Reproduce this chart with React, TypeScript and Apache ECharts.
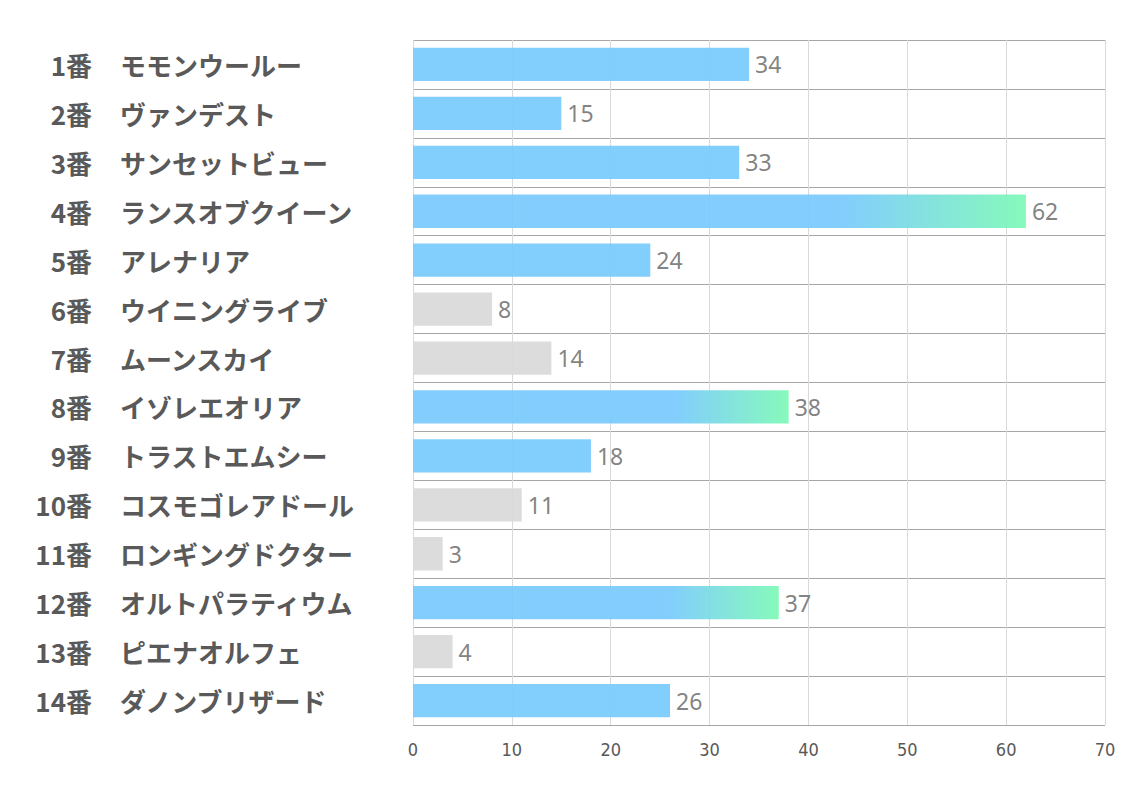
import React, { useEffect, useRef } from "react";
import * as echarts from "echarts";

const numbers = ["1番", "2番", "3番", "4番", "5番", "6番", "7番", "8番", "9番", "10番", "11番", "12番", "13番", "14番"];
const names = ["モモンウールー", "ヴァンデスト", "サンセットビュー", "ランスオブクイーン", "アレナリア", "ウイニングライブ", "ムーンスカイ", "イゾレエオリア", "トラストエムシー", "コスモゴレアドール", "ロンギングドクター", "オルトパラティウム", "ピエナオルフェ", "ダノンブリザード"];
const values = [34, 15, 33, 62, 24, 8, 14, 38, 18, 11, 3, 37, 4, 26];
const kinds = ["blue", "blue", "blue", "grad", "blue", "gray", "gray", "grad", "blue", "gray", "gray", "grad", "gray", "blue"];
const xTicks = [0, 10, 20, 30, 40, 50, 60, 70];

const BLUE = "#79cafd";
const GREEN = "#7df9b6";
const GRAY = "#d9d9d9";
const LABEL_FONT = "'Noto Sans CJK JP', 'Noto Sans', sans-serif";

export default function App() {
  const ref = useRef<HTMLDivElement>(null);
  useEffect(() => {
    if (!ref.current) return;
    const chart = echarts.init(ref.current, null, { renderer: "svg" });
    const colorFor = (k: string) => {
      if (k === "gray") return GRAY;
      if (k === "blue") return BLUE;
      return new echarts.graphic.LinearGradient(0, 0, 1, 0, [
        { offset: 0, color: BLUE },
        { offset: 0.7, color: BLUE },
        { offset: 1, color: GREEN },
      ]);
    };
    const baseY = {
      type: "category",
      inverse: true,
      position: "left",
      axisLine: { show: false },
      axisTick: { show: false },
    };
    chart.setOption({
      animation: false,
      backgroundColor: "#ffffff",
      grid: { left: 413, right: 29, top: 40, bottom: 68, containLabel: false },
      xAxis: {
        type: "value",
        min: xTicks[0],
        max: xTicks[xTicks.length - 1],
        interval: 10,
        axisLine: { show: false },
        axisTick: { show: false },
        axisLabel: {
          color: "#595959",
          fontSize: 18,
          margin: 15,
          fontFamily: "'Liberation Sans Narrow', 'DejaVu Sans Condensed', 'Noto Sans', sans-serif",
        },
        splitLine: { show: true, lineStyle: { color: "#d9d9d9", width: 1 } },
      },
      yAxis: [
        {
          ...baseY,
          data: names,
          splitLine: { show: true, lineStyle: { color: "#a6a6a6", width: 1 } },
          axisLabel: {
            margin: 293,
            align: "left",
            fontSize: 26,
            fontWeight: "bold",
            color: "#595959",
            fontFamily: LABEL_FONT,
            padding: [0, 0, 4, 0],
          },
        },
        {
          ...baseY,
          data: numbers,
          splitLine: { show: false },
          axisLabel: {
            margin: 321,
            align: "right",
            fontSize: 26,
            fontWeight: "bold",
            color: "#595959",
            fontFamily: LABEL_FONT,
            padding: [0, 0, 4, 0],
          },
        },
      ],
      series: [
        {
          type: "bar",
          yAxisIndex: 0,
          barWidth: "68%",
          data: values.map((v, i) => ({ value: v, itemStyle: { color: colorFor(kinds[i]), opacity: 0.93 } })),
          label: {
            show: true,
            position: "right",
            distance: 6,
            color: "#787878",
            fontSize: 23,
            fontFamily: "'Noto Sans', sans-serif",
          },
        },
      ],
    });
    return () => chart.dispose();
  }, []);
  return <div ref={ref} style={{ width: 1134, height: 793, position: "absolute", left: 0, top: 0 }} />;
}
